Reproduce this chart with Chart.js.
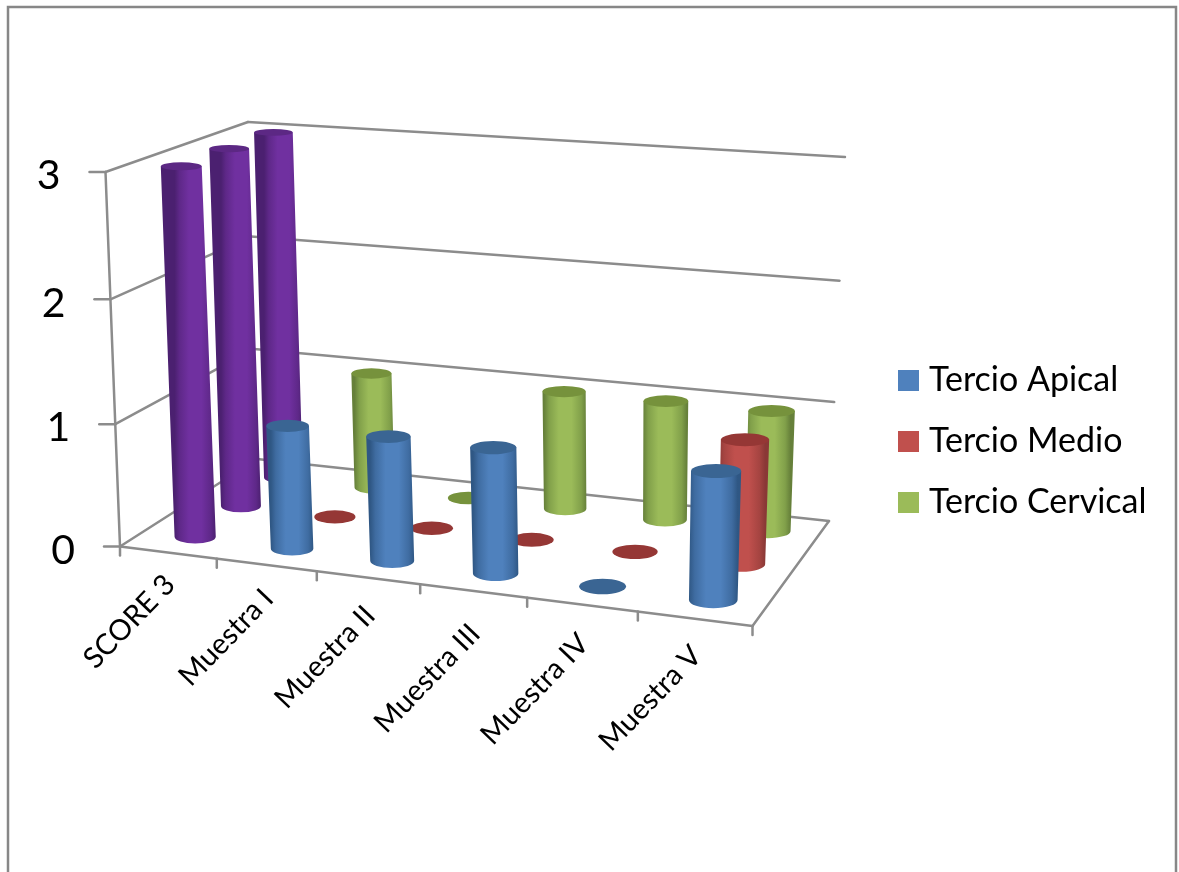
<!DOCTYPE html>
<html>
<head>
<meta charset="utf-8">
<title>Score 3</title>
<script src="https://cdn.jsdelivr.net/npm/chart.js@4"></script>
<style>
  html, body { margin: 0; padding: 0; background: #fff; }
  canvas { display: block; }
</style>
</head>
<body>
<canvas id="chart" width="1179" height="872"></canvas>
<script>
const categories = ['SCORE 3', 'Muestra I', 'Muestra II', 'Muestra III', 'Muestra IV', 'Muestra V'];
const seriesNames = ['Tercio Apical', 'Tercio Medio', 'Tercio Cervical'];
const tercioApical = [3, 1, 1, 1, 0, 1];
const tercioMedio = [3, 0, 0, 0, 0, 1];
const tercioCervical = [3, 1, 0, 1, 1, 1];
const valueTicks = [0, 1, 2, 3];

// body centre, shoulder, edge and cap colour of each series
const palette = [
  { mid: '#4f81bd', shade: '#3f6ca1', edge: '#2f5784', cap: '#3a6593' },
  { mid: '#c0504d', shade: '#a54441', edge: '#8a3836', cap: '#953735' },
  { mid: '#9bbb59', shade: '#81a04a', edge: '#66803a', cap: '#76923c' }
];
const scoreColor = { mid: '#7030a0', shade: '#5e2888', edge: '#4b2070', cap: '#5c2884' };

// corners of the floor and of the top plane: front-left, front-right, back-right, back-left
const floorCorners = [[120, 546.5], [752.5, 626], [829, 521], [257, 459]];
const topCorners = [[105.5, 172], [766, 221], [845, 157], [248, 122]];
const gridColor = '#8c8c8c';
const labelFont = 'Lato, "Open Sans", sans-serif';
// how far each rotated category label hangs below the front edge
const labelDrop = [27, 29, 33, 38, 34, 32];

// maps the unit square onto a quadrilateral
function makeHomography(q) {
  const [[x0, y0], [x1, y1], [x2, y2], [x3, y3]] = q;
  const dx1 = x1 - x2, dx2 = x3 - x2, sx = x0 - x1 + x2 - x3;
  const dy1 = y1 - y2, dy2 = y3 - y2, sy = y0 - y1 + y2 - y3;
  const det = dx1 * dy2 - dx2 * dy1;
  const g = (sx * dy2 - dx2 * sy) / det;
  const h = (dx1 * sy - sx * dy1) / det;
  const a = x1 - x0 + g * x1, b = x3 - x0 + h * x3;
  const d = y1 - y0 + g * y1, e = y3 - y0 + h * y3;
  return (u, w) => {
    const k = g * u + h * w + 1;
    return [(a * u + b * w + x0) / k, (d * u + e * w + y0) / k];
  };
}

const floorMap = makeHomography(floorCorners);
const topMap = makeHomography(topCorners);

// u along the categories, w into the depth, t from floor to top;
// heights stretch a little towards the top, the part nearest the camera
function project(u, w, t) {
  const f = floorMap(u, w), c = topMap(u, w);
  const s = t * (0.97 + 0.03 * t);
  return [f[0] + (c[0] - f[0]) * s, f[1] + (c[1] - f[1]) * s];
}

function line(ctx, a, b) {
  ctx.beginPath();
  ctx.moveTo(a[0], a[1]);
  ctx.lineTo(b[0], b[1]);
  ctx.stroke();
}

function drawFrame(chart) {
  const ctx = chart.ctx;
  ctx.save();
  ctx.strokeStyle = '#878787';
  ctx.lineWidth = 2.5;
  ctx.beginPath();
  ctx.moveTo(8, 872);
  ctx.lineTo(8, 7);
  ctx.lineTo(1176, 7);
  ctx.lineTo(1176, 872);
  ctx.stroke();
  ctx.restore();
}

function drawWalls(chart) {
  const ctx = chart.ctx;
  const xs = chart.scales.x, ys = chart.scales.y;
  const area = chart.chartArea;
  const toU = px => (px - area.left) / area.width;
  const toT = py => (area.bottom - py) / area.height;

  ctx.save();
  ctx.strokeStyle = gridColor;
  ctx.lineWidth = 2.5;
  ctx.lineCap = 'round';

  // value gridlines run along the left wall and the back wall
  ys.ticks.forEach(tick => {
    const t = toT(ys.getPixelForValue(tick.value));
    const front = project(0, 0, t), corner = project(0, 1, t);
    line(ctx, [front[0] - 16, front[1]], front);
    line(ctx, front, corner);
    line(ctx, corner, project(1, 1, t));

    ctx.fillStyle = '#000';
    ctx.font = '41px ' + labelFont;
    ctx.textAlign = 'right';
    ctx.textBaseline = 'middle';
    ctx.fillText(tick.label, front[0] - 45, front[1] + 4);
  });

  line(ctx, project(0, 0, 0), project(0, 0, 1));
  line(ctx, project(0, 0, 0), project(1, 0, 0));
  line(ctx, project(1, 0, 0), project(1, 1, 0));

  // tick marks sit on the category boundaries, labels at the band centres
  for (let i = 0; i <= categories.length; i++) {
    const p = project(toU(xs.getPixelForValue(i - 0.5)), 0, 0);
    line(ctx, p, [p[0], p[1] + 9]);
  }
  ctx.fillStyle = '#000';
  ctx.font = '29px ' + labelFont;
  ctx.textAlign = 'right';
  ctx.textBaseline = 'middle';
  categories.forEach((name, i) => {
    const p = project(toU(xs.getPixelForValue(i)), 0, 0);
    ctx.save();
    ctx.translate(p[0] + 2, p[1] + labelDrop[i]);
    ctx.rotate(-46 * Math.PI / 180);
    ctx.fillText(name, 0, 0);
    ctx.restore();
  });
  ctx.restore();
}

function drawCylinder(ctx, u, w, t, colors) {
  const du = 0.036, dw = 0.072;
  const radii = (level) => {
    const l = project(u - du, w, level), r = project(u + du, w, level);
    const n = project(u, w + dw, level), f = project(u, w - dw, level);
    return [Math.abs(r[0] - l[0]) / 2, Math.abs(f[1] - n[1]) / 2];
  };
  const bottom = project(u, w, 0), top = project(u, w, t);
  const [brx, bry] = radii(0);
  const [trx, tryy] = radii(t);

  if (t > 0) {
    const grad = ctx.createLinearGradient(bottom[0] - brx, 0, bottom[0] + brx, 0);
    grad.addColorStop(0, colors.edge);
    grad.addColorStop(0.12, colors.shade);
    grad.addColorStop(0.35, colors.mid);
    grad.addColorStop(0.65, colors.mid);
    grad.addColorStop(0.88, colors.shade);
    grad.addColorStop(1, colors.edge);
    ctx.fillStyle = grad;
    ctx.beginPath();
    ctx.ellipse(bottom[0], bottom[1], brx, bry, 0, 0, Math.PI);
    ctx.lineTo(top[0] - trx, top[1]);
    ctx.lineTo(top[0] + trx, top[1]);
    ctx.closePath();
    ctx.fill();
  }
  ctx.fillStyle = colors.cap;
  ctx.beginPath();
  ctx.ellipse(top[0], top[1], trx, tryy, 0, 0, Math.PI * 2);
  ctx.fill();
}

function drawCylinders(chart) {
  const ctx = chart.ctx;
  const xs = chart.scales.x, ys = chart.scales.y;
  const area = chart.chartArea;
  const count = chart.data.datasets.length;

  // back row first so nearer cylinders cover it
  for (let ds = count - 1; ds >= 0; ds--) {
    const w = (ds + 0.5) / count;
    chart.data.datasets[ds].data.forEach((value, i) => {
      // the cylinders sit slightly right of the band centre
      const u = (xs.getPixelForValue(i) - area.left) / area.width + 0.005;
      const t = (area.bottom - ys.getPixelForValue(value)) / area.height;
      drawCylinder(ctx, u, w, t, i === 0 ? scoreColor : palette[ds]);
    });
  }
}

function drawLegend(chart) {
  const ctx = chart.ctx;
  ctx.save();
  ctx.font = '34px ' + labelFont;
  ctx.textAlign = 'left';
  ctx.textBaseline = 'middle';
  chart.data.datasets.forEach((ds, i) => {
    const y = 380.5 + i * 61;
    ctx.fillStyle = ds.backgroundColor;
    ctx.fillRect(898, y - 10.5, 21, 21);
    ctx.fillStyle = '#000';
    ctx.fillText(ds.label, 929, y);
  });
  ctx.restore();
}

// the bars are painted as cylinders in perspective, placed through the chart's scales
const cylinderPlugin = {
  id: 'cylinders',
  beforeDatasetsDraw(chart) {
    drawFrame(chart);
    drawWalls(chart);
    drawCylinders(chart);
    drawLegend(chart);
    return false;
  }
};

new Chart(document.getElementById('chart'), {
  type: 'bar',
  data: {
    labels: categories,
    datasets: [
      { label: seriesNames[0], data: tercioApical, backgroundColor: palette[0].mid },
      { label: seriesNames[1], data: tercioMedio, backgroundColor: palette[1].mid },
      { label: seriesNames[2], data: tercioCervical, backgroundColor: palette[2].mid }
    ]
  },
  options: {
    responsive: false,
    animation: false,
    plugins: {
      legend: { display: false },
      tooltip: { enabled: false }
    },
    scales: {
      x: { display: false },
      y: {
        display: false,
        min: valueTicks[0],
        max: valueTicks[valueTicks.length - 1],
        ticks: { stepSize: 1 }
      }
    }
  },
  plugins: [cylinderPlugin]
});
</script>
</body>
</html>
